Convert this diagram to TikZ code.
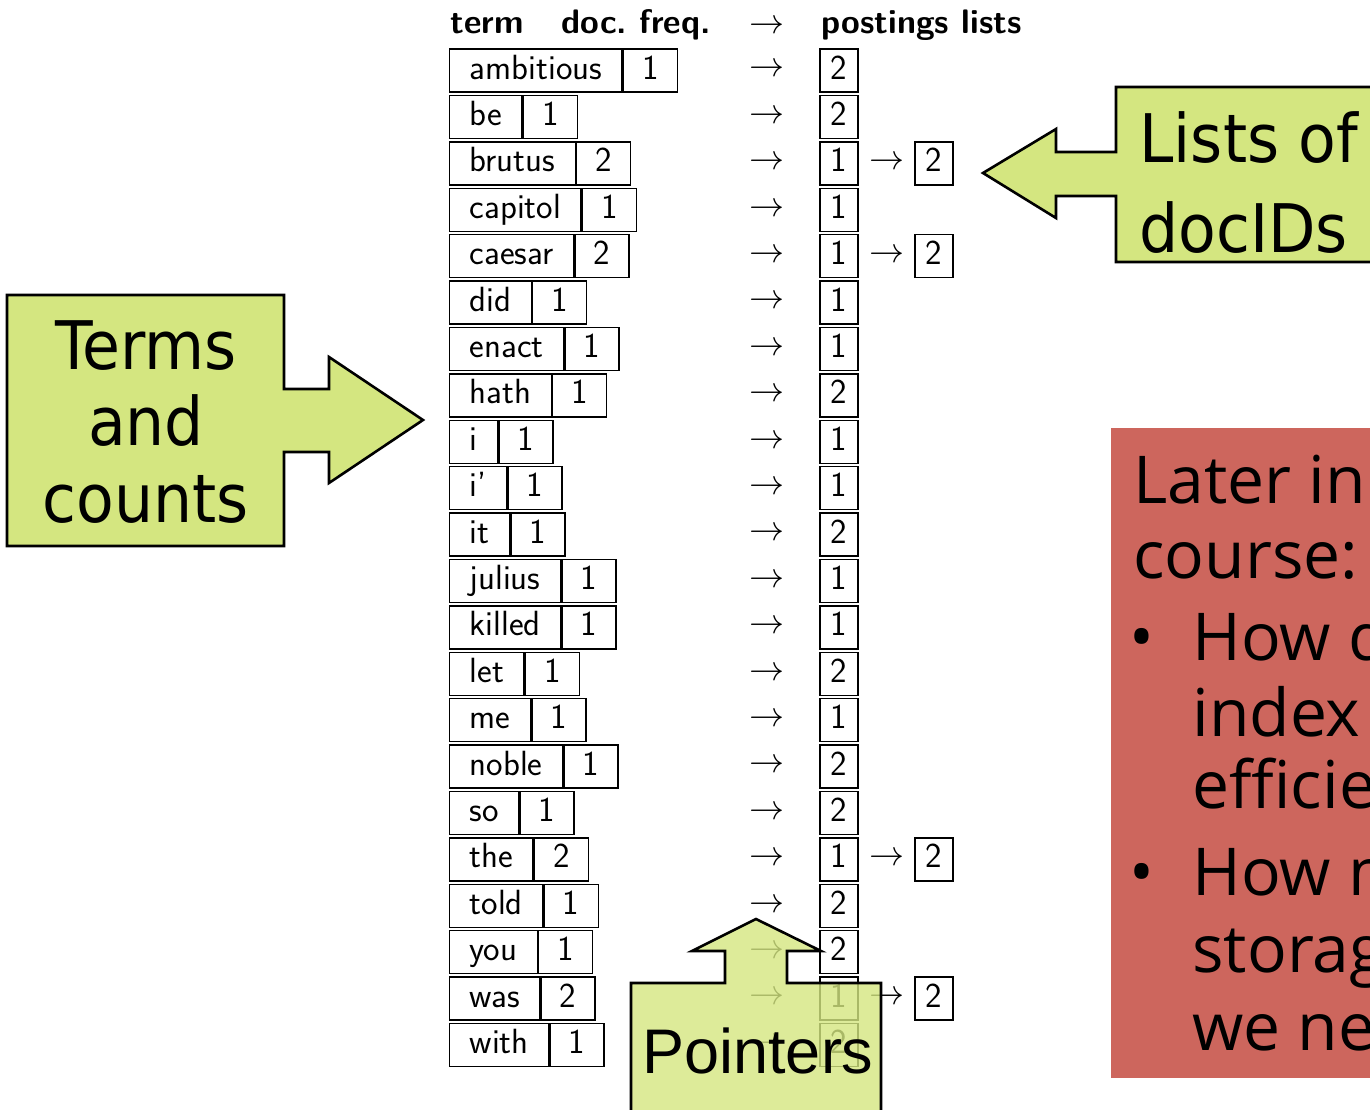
\RequirePackage{fix-cm}
\documentclass[tikz,border=0pt]{standalone}
\usepackage{fontspec}
\newfontfamily\callfont[FakeStretch=0.92]{DejaVu Sans}
\newfontfamily\ptrfont{Liberation Sans}
\newfontfamily\notefont{Open Sans}
\newcommand\tabfont{\sffamily\fontsize{17.5}{20}\selectfont}
\definecolor{callgreen}{RGB}{212,230,128}
\definecolor{notered}{RGB}{205,102,93}

\tikzset{
  cell/.style={draw, line width=0.7pt, text height=12.5pt, text depth=4pt, inner ysep=2.5pt, font=\tabfont},
  term/.style={cell, inner xsep=10pt, anchor=west},
  freq/.style={cell, minimum width=27pt, anchor=west},
  post/.style={cell, minimum width=19pt, inner xsep=1pt},
  ptr/.style={font=\tabfont},
  head/.style={font=\sffamily\bfseries\fontsize{17}{20}\selectfont, anchor=base west, inner sep=0pt},
  callout/.style={draw, fill=callgreen, line width=1.3pt, line join=miter},
  note/.style={font=\notefont\fontsize{33}{40}\selectfont, anchor=base west, inner sep=0pt}
}

\begin{document}
\begin{tikzpicture}[x=0.5pt,y=-0.5pt]
\useasboundingbox (0,0) rectangle (1370,1109);
\clip (0,0) rectangle (1370,1109);

% header
\node[head] (hterm) at (450,33) {term};
\node[head] (hfreq) at (561,33) {doc.\ freq.};
\node[ptr, anchor=base] (harr) at (767,33) {$\rightarrow$};
\node[head] (hpost) at (821,33) {postings lists};

% dictionary and postings
\foreach \w/\n/\p [count=\i from 0] in {ambitious/1/2, be/1/2, brutus/2/1, capitol/1/1, caesar/2/1, did/1/1, enact/1/1, hath/1/2, i/1/1, i'/1/1, it/1/2, julius/1/1, killed/1/1, let/1/2, me/1/1, noble/1/2, so/1/2, the/2/1, told/1/2, you/1/2, was/2/1, with/1/2}{
  \node[term] (t\i) at (449,70.5+46.4*\i) {\w};
  \node[freq] (f\i) at (t\i.east) {\n};
  \node[ptr] (a\i) at (767,70.5+46.4*\i) {$\rightarrow$};
  \node[post] (p\i) at (839,70.5+46.4*\i) {\p};
}
\foreach \i in {2,4,17,20}{
  \node[ptr] (b\i) at (887,70.5+46.4*\i) {$\rightarrow$};
  \node[post] (q\i) at (934,70.5+46.4*\i) {2};
}

% callouts
\draw[callout] (7,295) -| (284,389) -| (329,357) -- (423,420) -- (329,483) |- (284,452) |- (7,546) -- cycle;
\node[font=\callfont\fontsize{33.5}{38.25}\selectfont, align=center, inner sep=0pt] (terms) at (146,422) {Terms\\and\\counts};

\draw[callout] (1116,87) -- (1400,87) |- (1116,262) |- (1056,196) -- (1056,218) -- (983,173) -- (1056,129) -- (1056,152) -- (1116,152) -- cycle;
\node[font=\callfont\fontsize{33.5}{45}\selectfont, align=left, anchor=west, inner sep=0pt] (lists) at (1139,182.5) {Lists of\\docIDs};

\draw[callout, fill opacity=0.8] (631,1120) |- (725,983) |- (692,951) -- (756,919) -- (821,951) -| (787,983) -| (881,1120) -- cycle;
\node[font=\ptrfont\fontsize{31.5}{36}\selectfont, anchor=base west, inner sep=0pt] (ptrs) at (642,1073) {Pointers};

% later in the course
\fill[notered] (1111,428) rectangle (1400,1078);
\node[note] (l1) at (1133,503) {Later in the};
\node[note] (l2) at (1133,578) {course:};
\node[note, anchor=base] (d1) at (1142,660) {\textbullet};
\node[note, anchor=base] (d2) at (1142,895) {\textbullet};
\foreach \y/\s [count=\k] in {660/How do we, 736/index, 808/efficiently?, 895/How much, 972/storage do, 1050/we need?}
  \node[note] (m\k) at (1192,\y) {\s};
\end{tikzpicture}
\end{document}
